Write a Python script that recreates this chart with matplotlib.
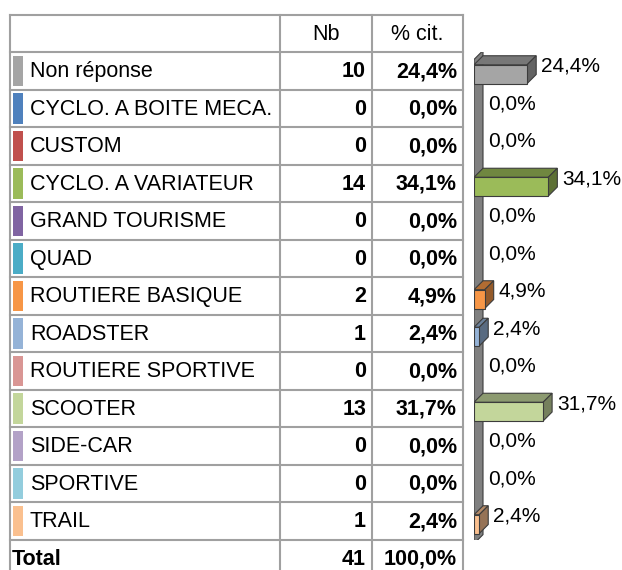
import matplotlib.pyplot as plt
from matplotlib.patches import Polygon, Rectangle
import matplotlib.colors as mcolors

plt.rcParams['font.family'] = ['Liberation Sans', 'DejaVu Sans']

# data
categories = ['Non réponse', 'CYCLO. A BOITE MECA.', 'CUSTOM', 'CYCLO. A VARIATEUR',
              'GRAND TOURISME', 'QUAD', 'ROUTIERE BASIQUE', 'ROADSTER',
              'ROUTIERE SPORTIVE', 'SCOOTER', 'SIDE-CAR', 'SPORTIVE', 'TRAIL']
counts = [10, 0, 0, 14, 0, 0, 2, 1, 0, 13, 0, 0, 1]
percents = [24.4, 0.0, 0.0, 34.1, 0.0, 0.0, 4.9, 2.4, 0.0, 31.7, 0.0, 0.0, 2.4]
colors = ['#a5a5a5', '#4f81bd', '#c0504d', '#9bbb59', '#8064a2', '#4bacc6', '#f79646',
          '#95b3d7', '#d99694', '#c3d69b', '#b3a2c7', '#93cddd', '#fac08f']
total_n = 41
total_pct = '100,0%'

W, H = 622, 570
fig = plt.figure(figsize=(W / 100, H / 100), dpi=100)

# ---- table (pixel layout) ----
tab = fig.add_axes([0, 0, 1, 1])
tab.set_xlim(0, W)
tab.set_ylim(H, 0)
tab.axis('off')

x_cols = [10, 280, 372, 463]
y_head = 15
y0 = 52
row_h = 37.5
n = len(categories)
grid = dict(color='#a0a0a0', lw=1.5)

def fmt(v):
    return f'{v:.1f}'.replace('.', ',') + '%'

tab.plot([x_cols[0], x_cols[-1]], [y_head, y_head], **grid)
for i in range(n + 1):
    y = y0 + i * row_h
    tab.plot([x_cols[0], x_cols[-1]], [y, y], **grid)
for x in x_cols:
    tab.plot([x, x], [y_head, H], **grid)

fs = 15.5
tab.text(326, 34, 'Nb', ha='center', va='center', fontsize=fs)
tab.text(417, 34, '% cit.', ha='center', va='center', fontsize=fs)

for i, (cat, c, p, col) in enumerate(zip(categories, counts, percents, colors)):
    yc = y0 + (i + 0.5) * row_h + 1
    tab.add_patch(Rectangle((13, y0 + i * row_h + 3.5), 10, row_h - 7, color=col, lw=0))
    tab.text(30, yc, cat, ha='left', va='center', fontsize=fs)
    tab.text(366, yc, str(c), ha='right', va='center', fontsize=fs, fontweight='bold')
    tab.text(457, yc, fmt(p), ha='right', va='center', fontsize=fs, fontweight='bold')

yt = y0 + (n + 0.5) * row_h + 1
tab.text(12, yt, 'Total', ha='left', va='center', fontsize=fs, fontweight='bold')
tab.text(366, yt, str(total_n), ha='right', va='center', fontsize=fs, fontweight='bold')
tab.text(457, yt, total_pct, ha='right', va='center', fontsize=fs, fontweight='bold')

# ---- 3D bar chart ----
px_per_pct = 2.18
bx0 = 474
ax = fig.add_axes([bx0 / W, 1 - (y0 + n * row_h) / H, (W - bx0) / W, n * row_h / H])
ax.set_xlim(0, (W - bx0) / px_per_pct)
ax.set_ylim(n - 0.5, -0.5)
ax.axis('off')

dx = 9 / px_per_pct
dy = 9 / row_h
edge = '#3c3c3c'

# wall
wt, wb = -0.3, n - 1 + 0.61
ax.add_patch(Polygon([(0, wb), (dx, wb - dy), (dx, wt - dy), (0, wt)],
                     closed=True, fc='#808080', ec=edge, lw=0.8))

for i, (p, col) in enumerate(zip(percents, colors)):
    top = i + 0.09 - 0.25
    bot = i + 0.09 + 0.25
    if p > 0:
        rgb = mcolors.to_rgb(col)
        dark1 = tuple(v * 0.72 for v in rgb)
        dark2 = tuple(v * 0.6 for v in rgb)
        ax.add_patch(Polygon([(0, top), (dx, top - dy), (p + dx, top - dy), (p, top)],
                             closed=True, fc=dark1, ec=edge, lw=0.8))
        ax.add_patch(Polygon([(p, top), (p + dx, top - dy), (p + dx, bot - dy), (p, bot)],
                             closed=True, fc=dark2, ec=edge, lw=0.8))
        ax.add_patch(Rectangle((0, top), p, bot - top, fc=col, ec=edge, lw=0.8))
    ax.text(p + dx + 5 / px_per_pct, i - 0.12, fmt(p), ha='left', va='center',
            fontsize=15, clip_on=False)

fig.savefig('out.png', dpi=100)
